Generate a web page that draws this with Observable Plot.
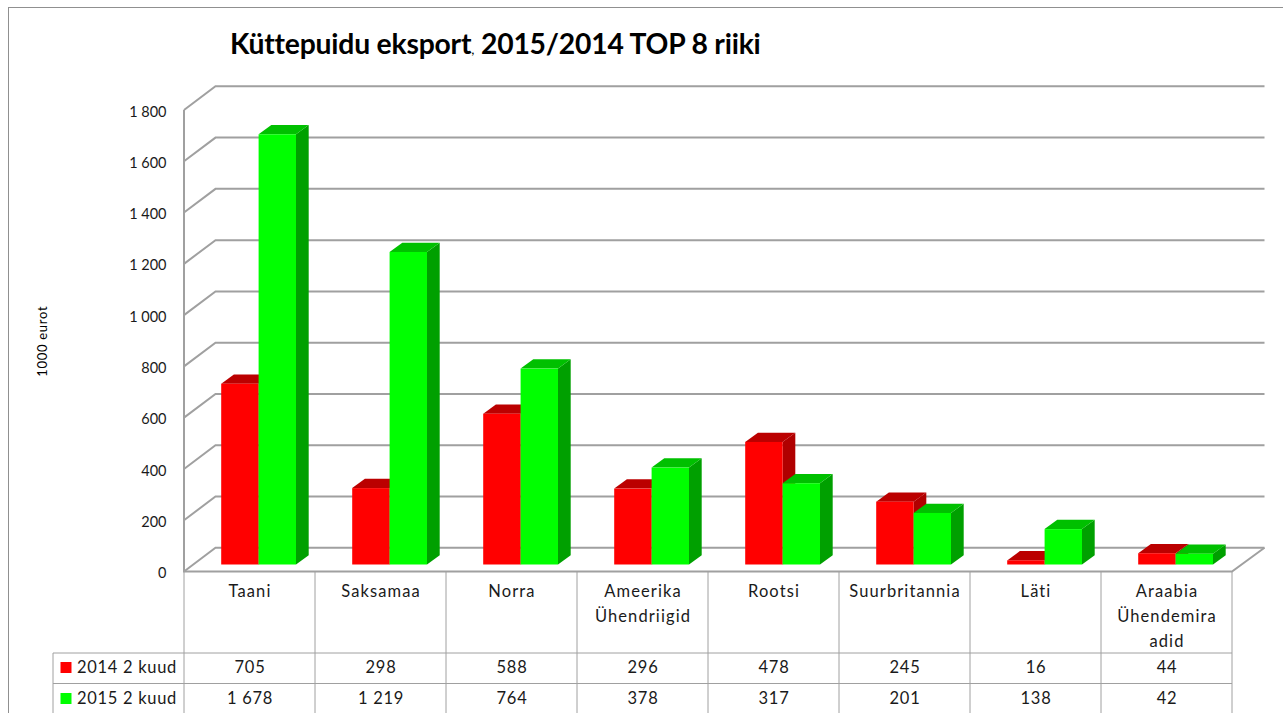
<!DOCTYPE html>
<html><head><meta charset="utf-8">
<script src="https://cdn.jsdelivr.net/npm/d3@7"></script>
<script src="https://cdn.jsdelivr.net/npm/@observablehq/plot@0.6"></script>
<style>
html,body{margin:0;padding:0;background:#fff;overflow:hidden}
#wrap{position:relative;width:1283px;height:713px;overflow:hidden}
#frame{position:absolute;left:8px;top:7px;width:1400px;height:800px;border:1px solid #909090}
#title{position:absolute;left:230px;top:26px;font:bold 28.3px Lato,sans-serif;color:#000;white-space:nowrap;letter-spacing:-.2px}
#title small{font-size:14px;font-weight:normal}
#chart{position:absolute;left:0;top:0}
[aria-label="y-axis tick label"]{letter-spacing:0}
[aria-label="text"]{letter-spacing:.7px}
</style></head><body>
<div id="wrap"><div id="frame"></div><div id="chart"></div>
<div id="title">Küttepuidu eksport<small>,</small> 2015/2014 TOP 8 riiki</div></div>
<script>
const countries = ["Taani","Saksamaa","Norra","Ameerika\nÜhendriigid","Rootsi","Suurbritannia","Läti","Araabia\nÜhendemira\nadid"];
const values2014 = [705,298,588,296,478,245,16,44];
const values2015 = [1678,1219,764,378,317,201,138,42];
const seriesNames = ["2014 2 kuud","2015 2 kuud"];
const yTicks = [0,200,400,600,800,1000,1200,1400,1600,1800];
const fmt = d => String(d).replace(/\B(?=(\d{3})+$)/g," ");

const gridColor="#a0a0a0", textColor="#1a1a1a", font="Lato, sans-serif";
const WALL_X=31.5, WALL_Y=-23.7;        // 3D wall offset
const DEPTH_X=12.7, DEPTH_Y=-9.3;       // 3D bar depth
const FLOOR_Y=-7, BAR_W=37.4, BAR_L=37.2;

const polygon=(g,pts,fill)=>g.append("polygon").attr("points",pts.map(p=>p.join(",")).join(" ")).attr("fill",fill);

const walls=(index,{x,y},ch,dim)=>{
  const g=d3.create("svg:g").attr("fill","none").attr("stroke",gridColor).attr("stroke-width",2);
  const l=dim.marginLeft, r=dim.width-dim.marginRight;
  yTicks.forEach(t=>{
    g.append("polyline").attr("points",`${l},${y(t)} ${l+WALL_X},${y(t)+WALL_Y} ${r+WALL_X+1},${y(t)+WALL_Y}`);
  });
  g.append("polyline").attr("points",`${l},${y(1800)} ${l},${y(0)} ${r},${y(0)} ${r+WALL_X+1},${y(0)+WALL_Y}`);
  return g.node();
};

const tableGrid=(index,{x,y},ch,dim)=>{
  const g=d3.create("svg:g").attr("stroke",gridColor).attr("stroke-width",1);
  const l=dim.marginLeft, r=dim.width-dim.marginRight, b=y(0), H=dim.height;
  countries.forEach(c=>g.append("line").attr("x1",x(c)).attr("x2",x(c)).attr("y1",b).attr("y2",H));
  g.append("line").attr("x1",r).attr("x2",r).attr("y1",b).attr("y2",H);
  g.append("line").attr("x1",l-131).attr("x2",l-131).attr("y1",b+81.5).attr("y2",H);
  [81.5,112].forEach(d=>g.append("line").attr("x1",l-131).attr("x2",r).attr("y1",b+d).attr("y2",b+d));
  return g.node();
};

const box=(vals,left,topFill,sideFill)=>(index,{x,y})=>{
  const g=d3.create("svg:g");
  vals.forEach((v,i)=>{
    const x0=x(countries[i])+left, x1=x0+BAR_W, yt=y(v)+FLOOR_Y, yb=y(0)+FLOOR_Y;
    polygon(g,[[x1,yt],[x1+DEPTH_X,yt+DEPTH_Y],[x1+DEPTH_X,yb+DEPTH_Y],[x1,yb]],sideFill);
    polygon(g,[[x0,yt],[x0+DEPTH_X,yt+DEPTH_Y],[x1+DEPTH_X,yt+DEPTH_Y],[x1,yt]],topFill);
  });
  return g.node();
};

const bw=1048/8;
const bars=(vals,left,fill)=>Plot.barY(countries,{x:d=>d,y:(d,i)=>vals[i],fill,insetLeft:left,insetRight:bw-left-BAR_W,dy:FLOOR_Y});
const ROW1=95.5, ROW2=126.5;
const rowText=(vals,dy)=>Plot.text(countries,{x:d=>d,frameAnchor:"bottom",text:(d,i)=>fmt(vals[i]),dy,fontSize:16.5,fill:textColor,textAnchor:"middle",lineAnchor:"middle"});
const rowLabel=(name,dy,fill)=>[
  Plot.dot([name],{frameAnchor:"bottom-left",dx:-118.5,dy,r:6.2,symbol:"square",fill}),
  Plot.text([name],{frameAnchor:"bottom-left",dx:-107.5,dy,fontSize:16.5,fill:textColor,textAnchor:"start",lineAnchor:"middle"})
];

const plot=Plot.plot({
  width:1283,height:713,
  marginLeft:184,marginRight:51,marginTop:110,marginBottom:141.5,
  style:{fontFamily:font,fontSize:"16.5px",letterSpacing:"1.1px",background:"transparent",overflow:"visible"},
  x:{type:"band",domain:countries,padding:0,round:false,axis:null},
  y:{domain:[0,1800],axis:null},
  marks:[
    walls,
    tableGrid,
    box(values2014,BAR_L,"#bb0000","#b00000"),
    bars(values2014,BAR_L,"#ff0000"),
    box(values2015,BAR_L+BAR_W,"#00c000","#00a000"),
    bars(values2015,BAR_L+BAR_W,"#00ff00"),
    Plot.axisY(yTicks,{anchor:"left",tickSize:0,tickPadding:18,tickFormat:fmt,fontSize:14.5,fill:textColor,label:null,dy:1.5}),
    Plot.axisX({anchor:"bottom",tickSize:0,tickPadding:7,lineHeight:1.51,fontSize:16.5,fill:textColor,label:null,textAnchor:"middle",lineAnchor:"top"}),
    rowText(values2014,ROW1),
    rowText(values2015,ROW2),
    rowLabel(seriesNames[0],ROW1,"#ff0000"),
    rowLabel(seriesNames[1],ROW2,"#00ff00"),
    Plot.text(["1000 eurot"],{frameAnchor:"left",dx:-142,rotate:-90,fontSize:13,fill:"#000",textAnchor:"middle"})
  ]
});
document.getElementById("chart").append(plot);
</script></body></html>
